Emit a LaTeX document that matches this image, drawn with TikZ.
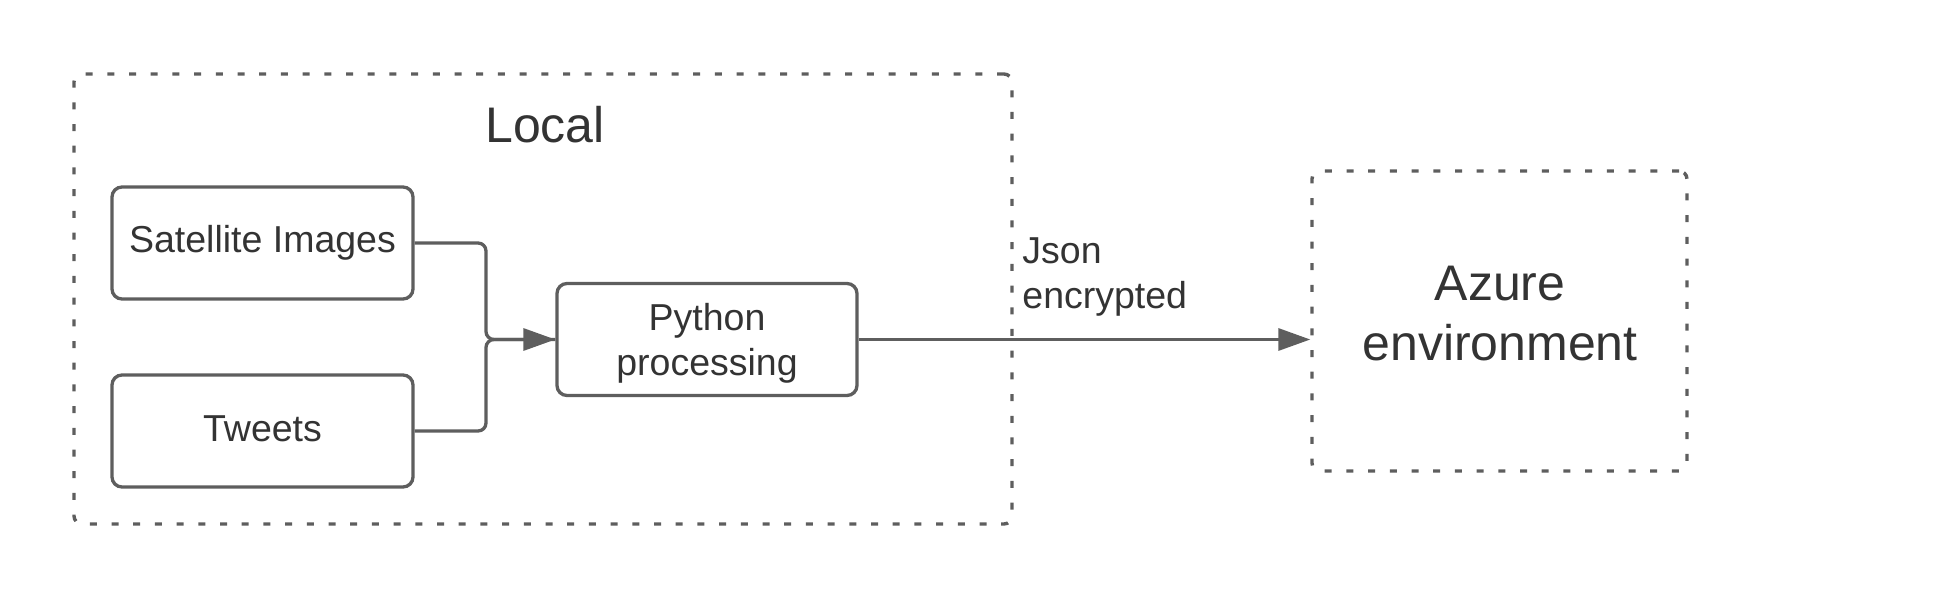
\documentclass[tikz,border=0pt]{standalone}
\usepackage{fontspec}
\setmainfont{Liberation Sans}
\usetikzlibrary{arrows.meta}
\definecolor{lc}{RGB}{94,94,94}
\definecolor{tc}{RGB}{51,51,51}
\begin{document}
\begin{tikzpicture}[x=0.5pt,y=-0.5pt,
  box/.style={draw=lc, line width=1.65pt, rounded corners=5pt, minimum width=150.5pt, minimum height=56pt, inner sep=0pt, text=tc, font=\fontsize{18.75}{22.5}\selectfont, align=center},
  zone/.style={draw=lc, line width=1.7pt, dash pattern=on 3.5pt off 7.35pt, rounded corners=4pt, inner sep=0pt},
  conn/.style={draw=lc, line width=1.65pt, rounded corners=4pt},
  tip/.style={-{Triangle[length=16pt,width=11pt]}},
  small/.style={text=tc, font=\fontsize{18.75}{22.5}\selectfont, inner sep=0pt},
  big/.style={text=tc, font=\fontsize{25}{30}\selectfont, inner sep=0pt}]
\useasboundingbox (0,0) rectangle (1950,600);
% containers
\node[zone, minimum width=469pt, minimum height=225pt] (local) at (543,299) {};
\node[zone, minimum width=187.5pt, minimum height=150pt] (azure) at (1499.5,321) {};
\node[big, anchor=base] (localtxt) at (545,142) {Local};
\node[big, anchor=base] (azuretxt1) at (1500,300.7) {Azure};
\node[big, anchor=base] (azuretxt2) at (1500,360.7) {environment};
% boxes
\node[box] (sat) at (262.5,243) {Satellite Images};
\node[box, text depth=0.2em] (tw) at (262.5,431) {Tweets};
\node[box, minimum width=150pt] (py) at (707,339.5) {\rule{0pt}{17.5pt}Python\\processing};
% label
\node[small, anchor=base west] (json1) at (1022,263) {Json};
\node[small, anchor=base west] (json2) at (1022,308) {encrypted};
% connectors
\coordinate (jn) at (486,339.5);
\draw[conn] (tw.east) -| (jn) -- (py.west);
\draw[conn, tip] (sat.east) -| (jn) -- (py.west);
\draw[conn, tip] (py.east) -- (py.east -| azure.west);
\end{tikzpicture}
\end{document}
